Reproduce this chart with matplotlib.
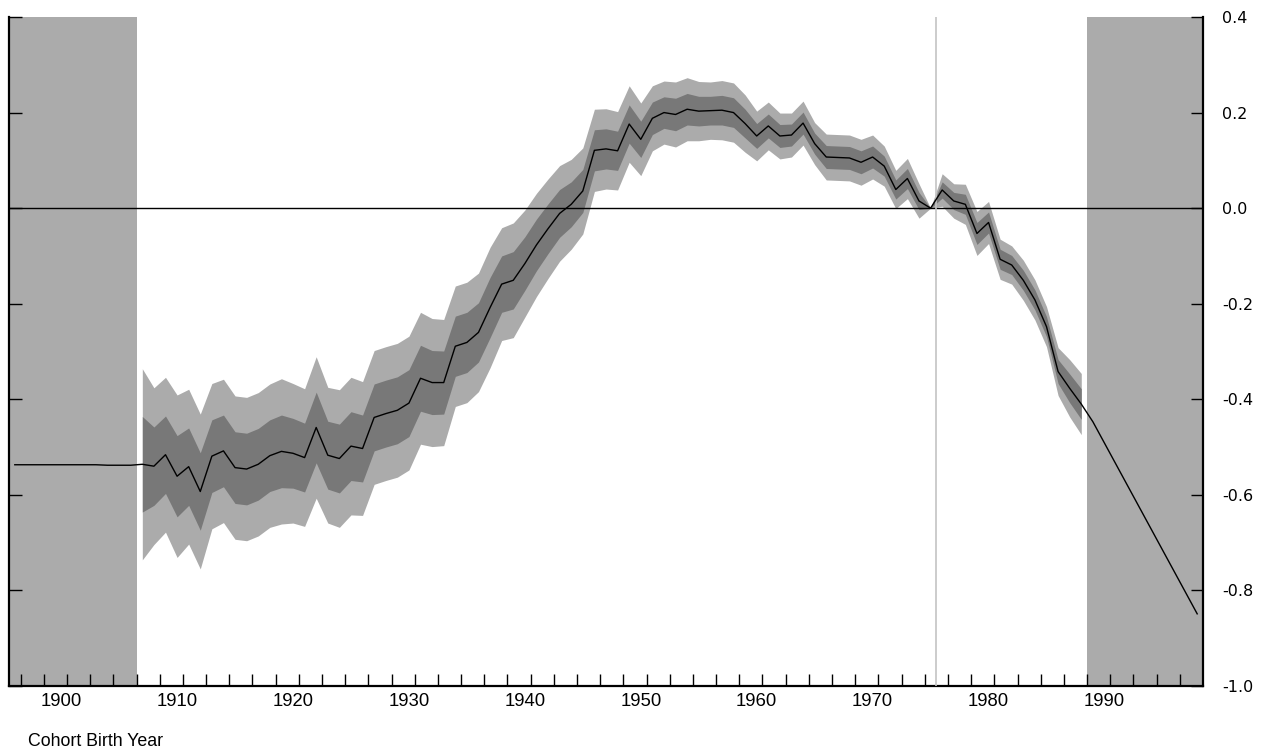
import numpy as np
import matplotlib
matplotlib.use("Agg")
import matplotlib.pyplot as plt

# cohort effect estimates
years_pre = [1896, 1897, 1898, 1899, 1900, 1901, 1902, 1903, 1904, 1905, 1906]
effect_pre = [-0.537, -0.537, -0.537, -0.537, -0.537, -0.537, -0.537, -0.537, -0.538, -0.538, -0.538]

years = list(range(1907, 1989))
effect = [
    -0.536, -0.540, -0.516, -0.561, -0.541, -0.593, -0.519, -0.508, -0.543, -0.546,
    -0.536, -0.518, -0.509, -0.513, -0.522, -0.459, -0.517, -0.524, -0.498, -0.503,
    -0.438, -0.430, -0.423, -0.408, -0.356, -0.365, -0.365, -0.289, -0.281, -0.260,
    -0.208, -0.159, -0.151, -0.116, -0.077, -0.043, -0.011, 0.008, 0.036, 0.121,
    0.124, 0.120, 0.176, 0.144, 0.188, 0.200, 0.196, 0.207, 0.203, 0.204,
    0.205, 0.200, 0.177, 0.151, 0.172, 0.151, 0.153, 0.178, 0.135, 0.107,
    0.106, 0.105, 0.096, 0.107, 0.088, 0.039, 0.062, 0.015, 0.000, 0.038,
    0.015, 0.008, -0.053, -0.030, -0.107, -0.119, -0.151, -0.192, -0.248, -0.342,
    -0.377, -0.410,
]
std_err = [
    0.100, 0.082, 0.081, 0.085, 0.081, 0.081, 0.076, 0.075, 0.075, 0.075,
    0.075, 0.075, 0.076, 0.073, 0.072, 0.074, 0.071, 0.072, 0.072, 0.070,
    0.070, 0.070, 0.070, 0.070, 0.069, 0.067, 0.066, 0.063, 0.063, 0.062,
    0.063, 0.059, 0.060, 0.056, 0.054, 0.052, 0.050, 0.047, 0.045, 0.043,
    0.042, 0.041, 0.040, 0.038, 0.034, 0.033, 0.034, 0.033, 0.031, 0.030,
    0.031, 0.031, 0.030, 0.026, 0.025, 0.024, 0.023, 0.023, 0.022, 0.024,
    0.024, 0.024, 0.024, 0.023, 0.021, 0.020, 0.021, 0.018, 0.000, 0.017,
    0.018, 0.021, 0.023, 0.022, 0.021, 0.020, 0.021, 0.021, 0.021, 0.025,
    0.030, 0.032,
]

years_post = [1989, 1998]
effect_post = [-0.447, -0.849]

y_ticks = [-1.0, -0.8, -0.6, -0.4, -0.2, 0.0, 0.2, 0.4]
y_labels = ["-1.0", "-0.8", "-0.6", "-0.4", "-0.2", "0.0", "0.2", "0.4"]
decades = [1900, 1910, 1920, 1930, 1940, 1950, 1960, 1970, 1980, 1990]

out_of_sample = [(1895.5, 1906.5), (1988.5, 1998.5)]
ref_year = 1975.5

fig = plt.figure(figsize=(12.62, 7.54), dpi=100)
ax = fig.add_axes([9 / 1262, 68 / 754, 1194 / 1262, 669 / 754])

for lo, hi in out_of_sample:
    ax.axvspan(lo, hi, color="#ababab", lw=0, zorder=0)

yr = np.array(years)
eff = np.array(effect)
se = np.array(std_err)
ax.fill_between(yr, eff - 2 * se, eff + 2 * se, color="#ababab", lw=0, zorder=1)
ax.fill_between(yr, eff - se, eff + se, color="#787878", lw=0, zorder=2)

all_years = years_pre + years + years_post
all_effect = effect_pre + effect + effect_post
ax.plot(all_years, all_effect, color="black", lw=1.0, zorder=4)

ax.axhline(0, color="black", lw=1.0, zorder=3)
ax.axvline(ref_year, color="#c4c4c4", lw=1.2, zorder=3)

ax.set_xlim(1895.5, 1998.5)
ax.set_ylim(-1.0, 0.4)

# spines
ax.spines["top"].set_visible(False)
for s in ["left", "right", "bottom"]:
    ax.spines[s].set_linewidth(1.6)
    ax.spines[s].set_color("black")

# x axis: tick marks every 2 years, labels each decade
ax.set_xticks(np.arange(1896.5, 1998, 2))
ax.set_xticklabels([])
ax.tick_params(axis="x", which="major", direction="in", length=9, width=1.0)
ax.set_xticks(decades, minor=True)
ax.set_xticklabels([str(y) for y in decades], minor=True,
                   family="Liberation Sans", fontsize=13.3)
ax.tick_params(axis="x", which="minor", length=0, pad=5)

# y axis: ticks on both sides, labels on the right
ax.set_yticks(y_ticks)
ax.set_yticklabels(y_labels, family="DejaVu Sans", fontsize=11.5)
ax.tick_params(axis="y", which="both", direction="in", length=9, width=1.0,
               left=True, right=True, labelleft=False, labelright=True, pad=14)
ax.tick_params(axis="y", which="minor", left=False, right=False)

fig.text(28 / 1262, 1 - 741 / 754, "Cohort Birth Year", family="Liberation Sans",
         fontsize=12.8, ha="left", va="center")

fig.savefig("out.png", dpi=100)
